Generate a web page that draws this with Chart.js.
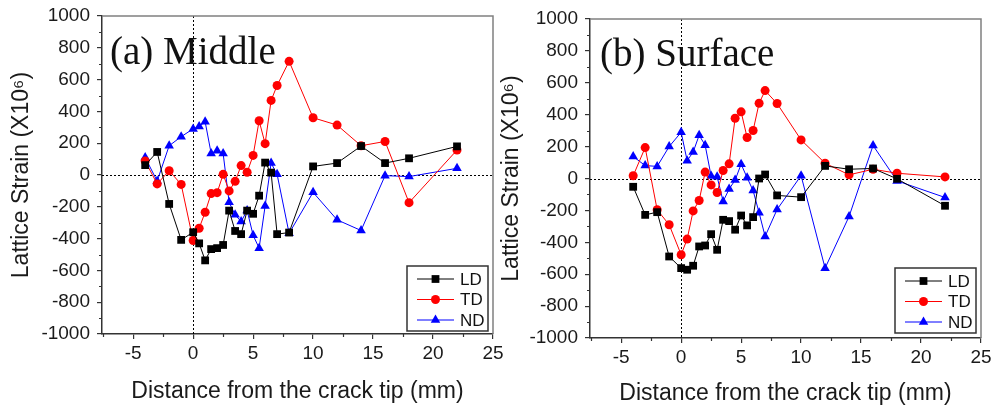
<!DOCTYPE html>
<html>
<head>
<meta charset="utf-8">
<script src="https://cdn.jsdelivr.net/npm/chart.js@4.4.0/dist/chart.umd.min.js"></script>
<style>
  html, body { margin: 0; padding: 0; background: #fff; }
  #wrap { position: relative; width: 993px; height: 408px; overflow: hidden; }
  canvas { position: absolute; top: 0; }
</style>
</head>
<body>
<div id="wrap">
  <canvas id="middleChart" width="510" height="408" style="left:0"></canvas>
  <canvas id="surfaceChart" width="497" height="408" style="left:496px"></canvas>
</div>
<script>
// distance from the crack tip (mm), shared by every series
const distance = [-4, -3, -2, -1, 0, 0.5, 1, 1.5, 2, 2.5, 3, 3.5, 4, 4.5, 5, 5.5, 6, 6.5, 7, 8, 10, 12, 14, 16, 18, 22];

const seriesNames = ["LD", "TD", "ND"];

// (a) Middle
const middleLD = [62, 145, -182, -408, -360, -430, -537, -466, -460, -440, -224, -352, -372, -224, -244, -130, 78, 15, -372, -362, 54, 75, 182, 75, 105, 180];
const middleTD = [88, -56, 27, -59, -412, -335, -234, -117, -111, 4, -100, -40, 59, 17, 123, 341, 197, 469, 563, 715, 360, 314, 184, 211, -174, 157];
const middleND = [110, -38, 184, 241, 290, 305, 335, 136, 153, 136, -172, -250, -293, -223, -379, -460, -195, 75, 4, -367, -109, -282, -349, -4, -10, 42];

// (b) Surface
const surfaceLD = [-52, -228, -211, -489, -562, -572, -547, -426, -420, -349, -447, -259, -267, -321, -232, -294, -242, 0, 25, -106, -117, 79, 58, 63, -2, -171];
const surfaceTD = [17, 194, -196, -290, -478, -380, -203, -138, 40, -40, -88, 50, 92, 378, 418, 257, 301, 472, 551, 470, 242, 96, 23, 58, 33, 10];
const surfaceND = [138, 81, 76, 200, 290, 112, 166, 271, 209, 15, 11, -144, -66, -10, 90, 5, -76, -215, -363, -194, 18, -562, -238, 207, -15, -119];

const xTickValues = [-5, 0, 5, 10, 15, 20, 25];
const yTickValues = [-1000, -800, -600, -400, -200, 0, 200, 400, 600, 800, 1000];

const colors = ["#000000", "#ff0000", "#0000ff"];
const styles = ["rect", "circle", "triangle"];
const radii = [5.5, 4.5, 5.5];

const sans = "'Liberation Sans', Arial, sans-serif";
const tickFont = { family: sans, size: 19 };
const titleFont = { family: sans, size: 23 };

function drawMarker(ctx, style, x, y, r, color) {
  ctx.fillStyle = color;
  ctx.beginPath();
  if (style === "rect") {
    const s = r * Math.SQRT1_2;
    ctx.rect(x - s, y - s, 2 * s, 2 * s);
  } else if (style === "circle") {
    ctx.arc(x, y, r, 0, Math.PI * 2);
  } else {
    ctx.moveTo(x, y - r);
    ctx.lineTo(x + r * 0.866, y + r * 0.5);
    ctx.lineTo(x - r * 0.866, y + r * 0.5);
    ctx.closePath();
  }
  ctx.fill();
}

// dotted zero lines, box frame, minor ticks, panel name and legend
const decorations = {
  id: "decorations",
  beforeDatasetsDraw(chart) {
    const { ctx, chartArea: ca, scales: { x, y } } = chart;
    ctx.save();
    ctx.strokeStyle = "#000";
    ctx.lineWidth = 1;
    ctx.setLineDash([2, 2]);
    const x0 = Math.round(x.getPixelForValue(0)) + 0.5;
    const y0 = Math.round(y.getPixelForValue(0)) + 0.5;
    ctx.beginPath();
    ctx.moveTo(x0, ca.top);
    ctx.lineTo(x0, ca.bottom);
    ctx.moveTo(ca.left, y0);
    ctx.lineTo(ca.right, y0);
    ctx.stroke();
    ctx.restore();
  },
  afterDraw(chart, args, opts) {
    const { ctx, chartArea: ca, scales: { x, y } } = chart;
    ctx.save();
    // top and right frame
    ctx.strokeStyle = "#808080";
    ctx.lineWidth = 1.5;
    ctx.beginPath();
    ctx.moveTo(ca.left, ca.top);
    ctx.lineTo(ca.right, ca.top);
    ctx.lineTo(ca.right, ca.bottom);
    ctx.stroke();

    // minor ticks halfway between labelled ones
    ctx.strokeStyle = "#333";
    ctx.lineWidth = 1.2;
    ctx.beginPath();
    for (let i = 0; i < yTickValues.length - 1; i++) {
      const py = Math.round(y.getPixelForValue((yTickValues[i] + yTickValues[i + 1]) / 2)) + 0.5;
      ctx.moveTo(ca.left - 3, py);
      ctx.lineTo(ca.left, py);
    }
    const xm = [xTickValues[0] - 2.5].concat(xTickValues.slice(0, -1).map((v, i) => (v + xTickValues[i + 1]) / 2));
    xm.forEach(v => {
      if (v < x.min) return;
      const px = Math.round(x.getPixelForValue(v)) + 0.5;
      ctx.moveTo(px, ca.bottom);
      ctx.lineTo(px, ca.bottom + 3);
    });
    ctx.stroke();

    // panel name
    ctx.fillStyle = "#111";
    ctx.font = "39px 'Liberation Serif', 'Times New Roman', serif";
    ctx.textBaseline = "alphabetic";
    ctx.textAlign = "left";
    ctx.fillText(opts.panel, ca.left + opts.panelDx, ca.top + opts.panelDy);

    // legend box
    const w = 81, h = 65;
    const bx = ca.right - 5 - w, by = ca.bottom - opts.legendDy - h;
    ctx.strokeStyle = "#333";
    ctx.lineWidth = 1.5;
    ctx.strokeRect(bx, by, w, h);
    ctx.font = "17px " + sans;
    ctx.textBaseline = "middle";
    chart.data.datasets.forEach((ds, i) => {
      const ry = by + 13 + i * 20.5;
      ctx.strokeStyle = ds.borderColor;
      ctx.lineWidth = 1;
      ctx.beginPath();
      ctx.moveTo(bx + 10, ry);
      ctx.lineTo(bx + 47, ry);
      ctx.stroke();
      drawMarker(ctx, ds.pointStyle, bx + 28.5, ry, ds.pointRadius, ds.pointBackgroundColor);
      ctx.fillStyle = "#111";
      ctx.fillText(ds.label, bx + 53, ry + 1);
    });
    ctx.restore();
  }
};

function makeChart(id, seriesData, cfg) {
  const datasets = seriesData.map((vals, i) => ({
    label: seriesNames[i],
    data: distance.map((d, j) => ({ x: d, y: vals[j] })),
    showLine: true,
    borderColor: colors[i],
    borderWidth: 1,
    pointStyle: styles[i],
    pointRadius: radii[i],
    pointBackgroundColor: colors[i],
    pointBorderColor: colors[i],
    pointBorderWidth: 0
  }));

  return new Chart(document.getElementById(id), {
    type: "scatter",
    data: { datasets },
    plugins: [decorations],
    options: {
      responsive: false,
      animation: false,
      layout: { padding: cfg.padding },
      plugins: {
        legend: { display: false },
        tooltip: { enabled: false },
        decorations: { panel: cfg.panel, panelDx: cfg.panelDx, panelDy: cfg.panelDy, legendDy: cfg.legendDy }
      },
      scales: {
        x: {
          type: "linear",
          min: -7.6,
          max: 25,
          afterBuildTicks: s => { s.ticks = xTickValues.map(v => ({ value: v })); },
          afterFit: s => { s.height = cfg.xHeight; s.paddingLeft = 0; s.paddingRight = 0; },
          grid: { drawOnChartArea: false, tickLength: 5, color: "#333", lineWidth: 1.2 },
          border: { color: "#333", width: 1.5 },
          ticks: { font: tickFont, color: "#1a1a1a", padding: 3, maxRotation: 0, callback: v => String(v) },
          title: {
            display: true,
            text: "Distance from the crack tip (mm)",
            font: titleFont,
            color: "#1a1a1a",
            padding: 0
          }
        },
        y: {
          type: "linear",
          min: -1000,
          max: 1000,
          afterBuildTicks: s => { s.ticks = yTickValues.map(v => ({ value: v })); },
          afterFit: s => { s.width = cfg.yWidth; s.paddingTop = 0; s.paddingBottom = 0; },
          grid: { drawOnChartArea: false, tickLength: 5, color: "#333", lineWidth: 1.2 },
          border: { color: "#333", width: 1.5 },
          ticks: { font: tickFont, color: "#1a1a1a", padding: 7, callback: v => String(v) },
          title: {
            display: true,
            text: "Lattice Strain (X10\u2076)",
            font: titleFont,
            color: "#1a1a1a",
            padding: 0
          }
        }
      }
    }
  });
}

makeChart("middleChart", [middleLD, middleTD, middleND], {
  padding: { left: 8, right: 17, top: 16, bottom: 3 },
  xHeight: 71, yWidth: 94,
  panel: "(a) Middle", panelDx: 8, panelDy: 48, legendDy: 3
});

makeChart("surfaceChart", [surfaceLD, surfaceTD, surfaceND], {
  padding: { left: 2, right: 12, top: 19, bottom: 1 },
  xHeight: 69, yWidth: 92,
  panel: "(b) Surface", panelDx: 10, panelDy: 47, legendDy: 5
});
</script>
</body>
</html>
